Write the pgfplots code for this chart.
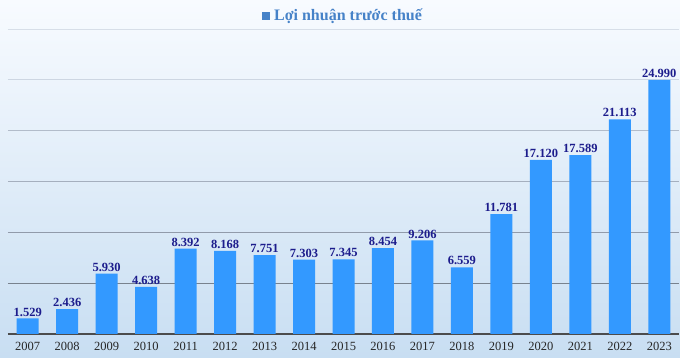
\documentclass[border=0pt]{standalone}
\usepackage{pgfplots}
\pgfplotsset{compat=1.18}
\usepackage{pgfplotstable}
\usepackage{fontspec}
\setmainfont{Liberation Serif}
\definecolor{barblue}{RGB}{51,153,255}
\definecolor{lblnavy}{RGB}{28,28,140}
\definecolor{legblue}{RGB}{70,130,200}
\definecolor{bgtop}{RGB}{248,251,255}
\definecolor{bgbot}{RGB}{200,222,242}
\definecolor{gA}{RGB}{120,130,142}
\definecolor{gB}{RGB}{145,155,170}
\definecolor{gC}{RGB}{165,175,190}
\definecolor{gD}{RGB}{178,188,202}
\definecolor{gE}{RGB}{205,214,226}
\definecolor{gF}{RGB}{215,222,232}
\pgfplotstableread{
x y lbl
0 1529 1.529
1 2436 2.436
2 5930 5.930
3 4638 4.638
4 8392 8.392
5 8168 8.168
6 7751 7.751
7 7303 7.303
8 7345 7.345
9 8454 8.454
10 9206 9.206
11 6559 6.559
12 11781 11.781
13 17120 17.120
14 17589 17.589
15 21113 21.113
16 24990 24.990
}\datatable
\begin{document}
\begin{tikzpicture}[x=1pt,y=1pt]
\shade[top color=bgtop,bottom color=bgbot] (0,0) rectangle (680,358);
\begin{axis}[
  at={(8pt,24pt)}, anchor=south west,
  scale only axis,
  width=671pt, height=305pt,
  xmin=-0.5, xmax=16.5,
  ymin=0, ymax=30000,
  axis x line*=bottom,
  axis y line=none,
  x axis line style={draw=black!70, line width=1.2pt},
  xtick=data,
  xticklabels={2007,2008,2009,2010,2011,2012,2013,2014,2015,2016,2017,2018,2019,2020,2021,2022,2023},
  xticklabel style={font=\fontsize{12.5}{14}\selectfont, text=black!85},
  x tick style={draw=none},
  ytick=\empty,
  ybar, bar width=22pt,
  clip=false,
  nodes near coords,
  point meta=explicit symbolic,
  nodes near coords style={font=\bfseries\fontsize{12.5}{14}\selectfont, text=lblnavy, inner sep=2pt},
]
\draw[gA, line width=0.8pt] (axis cs:-0.5,5000) -- (axis cs:16.5,5000);
\draw[gB, line width=0.8pt] (axis cs:-0.5,10000) -- (axis cs:16.5,10000);
\draw[gC, line width=0.8pt] (axis cs:-0.5,15000) -- (axis cs:16.5,15000);
\draw[gD, line width=0.8pt] (axis cs:-0.5,20000) -- (axis cs:16.5,20000);
\draw[gE, line width=0.8pt] (axis cs:-0.5,25000) -- (axis cs:16.5,25000);
\draw[gF, line width=0.8pt] (axis cs:-0.5,30000) -- (axis cs:16.5,30000);
\addplot[fill=barblue, draw=none] table[x=x, y=y, meta=lbl] {\datatable};
\end{axis}
\node[font=\bfseries\fontsize{16}{18}\selectfont, text=legblue] at (342,342) {\textcolor{legblue}{\rule{8pt}{8pt}}\hspace{4pt}Lợi nhuận trước thuế};
\end{tikzpicture}
\end{document}
